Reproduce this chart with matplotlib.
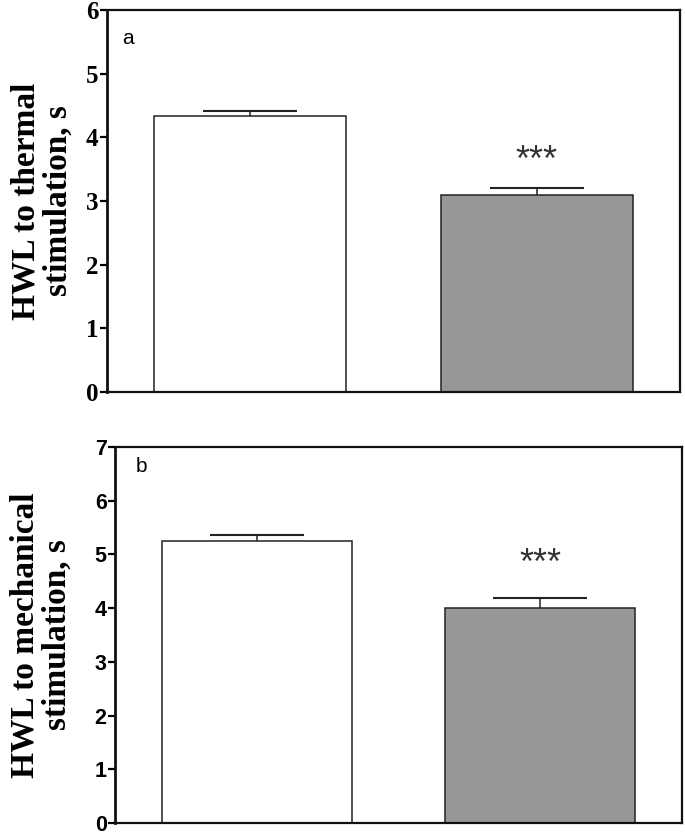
import matplotlib
matplotlib.use("Agg")
import matplotlib.pyplot as plt

# Valeurs
groupes = ["controle", "traite"]
thermique = [4.33, 3.09]
thermique_err = [0.08, 0.12]
mecanique = [5.25, 4.00]
mecanique_err = [0.11, 0.19]
couleurs = ["white", "#979797"]
etoiles = "***"

fig = plt.figure(figsize=(6.85, 8.35), dpi=100)
ax1 = fig.add_axes([0.156, 0.5305, 0.837, 0.4575])
ax2 = fig.add_axes([0.168, 0.0144, 0.828, 0.4503])


def tracer_panneau(ax, valeurs, erreurs, ymax, lettre, label, police_ticks, y_etoiles):
    x = range(len(valeurs))
    ax.bar(x, valeurs, width=0.67, color=couleurs, edgecolor="#222222",
           linewidth=1.1, zorder=2)
    for xi, v, e in zip(x, valeurs, erreurs):
        _, caps, _ = ax.errorbar(xi, v, yerr=[[0], [e]], fmt="none", ecolor="#222222",
                                 elinewidth=1.1, capsize=34, capthick=1.5, zorder=3)
        caps[0].set_visible(False)  # pas de barre du bas
    ax.set_xlim(-0.5, 1.5)
    ax.set_ylim(0, ymax)
    ax.set_yticks(range(ymax + 1))
    ax.set_xticks([])
    for cote in ["left", "bottom", "right", "top"]:
        ax.spines[cote].set_linewidth(1.6)
        ax.spines[cote].set_color("#111111")
    ax.spines["left"].set_linewidth(2.0)
    ax.tick_params(axis="y", direction="out", length=5, width=1.6, pad=1)
    for t in ax.get_yticklabels():
        t.set_fontfamily(police_ticks)
        t.set_fontweight("bold")
        t.set_fontsize(18 if police_ticks == "Liberation Serif" else 15.5)
    ax.text(lettre[1], lettre[2], lettre[0], transform=ax.transAxes,
            fontsize=15, family="Liberation Sans", va="center", ha="left")
    ax.text(1, y_etoiles, etoiles, ha="center", va="center", fontsize=26,
            family="Liberation Sans", color="#333333")
    ax.text(lettre[3], 0.5, label, transform=ax.transAxes, rotation=90,
            ha="center", va="center", fontsize=24, fontweight="bold",
            family="Liberation Serif", linespacing=1.05)


tracer_panneau(ax1, thermique, thermique_err, 6, ("a", 0.026, 0.925, -0.113),
               "HWL to thermal\nstimulation, s", "Liberation Serif", 3.62)
tracer_panneau(ax2, mecanique, mecanique_err, 7, ("b", 0.036, 0.947, -0.13),
               "HWL to mechanical\nstimulation, s", "Liberation Sans", 4.82)

plt.savefig("out.png", dpi=100)
